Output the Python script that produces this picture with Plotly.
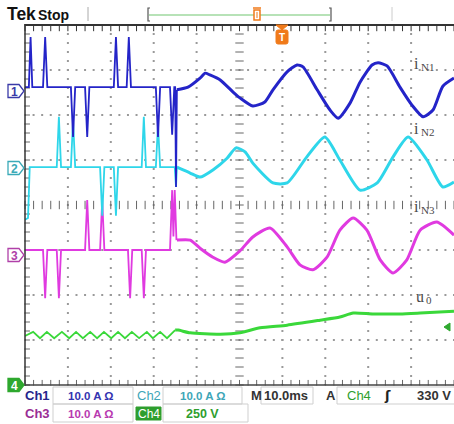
import numpy as np
import plotly.graph_objects as go

W, H = 454, 424

# ---------------- data: time in ms (10 ms/div), value in screen divisions (0..8) -------------
# Ch1 (iN1) switching part
ch1_pulse_t = [0.0, 0.9, 1.3, 1.7, 4.2, 4.7, 5.2, 10.7, 11.2, 11.7, 14.0, 14.5, 15.0,
               20.7, 21.2, 21.7, 23.7, 24.2, 24.7, 30.5, 31.0, 31.5, 33.8, 34.3, 34.8,
               35.0, 35.2, 35.4]
ch1_pulse_v = [6.62, 6.62, 7.73, 6.62, 6.62, 7.73, 6.62, 6.62, 5.51, 6.62, 6.62, 5.51, 6.62,
               6.62, 7.73, 6.62, 6.62, 7.73, 6.62, 6.62, 5.51, 6.62, 6.62, 5.56, 6.62,
               6.62, 4.40, 6.56]
# Ch1 sinusoidal part
ch1_wave_t = [35.4, 38.0, 40.8, 42.0, 43.1, 45.5, 48.5, 50.1, 53.1, 55.9, 57.8,
              61.1, 63.4, 64.8, 68.1, 71.1, 73.0, 75.8, 78.1, 80.9, 82.3, 84.4, 87.4, 90.2,
              92.8, 95.1, 97.4, 100.0]
ch1_wave_v = [6.56, 6.62, 6.82, 6.93, 6.89, 6.78, 6.51, 6.38, 6.20, 6.29, 6.56,
              6.96, 7.11, 7.07, 6.56, 6.11, 5.93, 6.27, 6.73, 7.11, 7.16, 7.09, 6.62, 6.22,
              5.96, 6.11, 6.64, 6.82]

# Ch2 (iN2)
ch2_pulse_t = [0.0, 0.7, 1.1, 7.4, 7.9, 8.4, 10.7, 11.2, 11.7, 17.5, 18.0, 18.5, 20.7, 21.2,
               21.7, 27.2, 27.7, 28.2, 30.5, 31.0, 31.5, 34.9, 35.2, 35.4]
ch2_pulse_v = [3.67, 3.71, 4.84, 4.84, 5.96, 4.84, 4.84, 5.89, 4.84, 4.84, 3.76, 4.84, 4.84,
               3.76, 4.84, 4.84, 5.96, 4.84, 4.84, 5.78, 4.84, 4.84, 4.40, 4.84]
ch2_wave_t = [35.4, 38.5, 40.8, 43.8, 47.1, 49.2, 51.3, 53.1, 57.8, 61.1, 65.7, 69.9, 73.4,
              78.1, 82.1, 85.8, 89.3, 93.7, 97.4, 100.0]
ch2_wave_v = [4.84, 4.71, 4.62, 4.78, 5.04, 5.27, 5.18, 4.93, 4.49, 4.49, 5.07, 5.51, 5.00,
              4.33, 4.49, 5.07, 5.51, 5.00, 4.40, 4.51]

# Ch3 (iN3)
ch3_pulse_t = [0.0, 4.2, 4.7, 5.2, 7.4, 7.9, 8.4, 14.0, 14.5, 15.0, 17.5, 18.0, 18.5, 24.0,
               24.5, 25.0, 27.2, 27.7, 28.2, 33.8, 34.3, 34.6, 34.9, 35.3]
ch3_pulse_v = [3.00, 3.00, 1.93, 3.00, 3.00, 1.93, 3.00, 3.00, 4.11, 3.00, 3.00, 4.11, 3.00,
               3.00, 1.93, 3.00, 3.00, 1.93, 3.00, 3.00, 4.33, 3.30, 4.33, 3.22]
ch3_wave_t = [35.4, 38.5, 40.8, 43.8, 46.6, 50.1, 53.1, 57.1, 61.1, 64.1, 67.1, 70.4, 73.4,
              76.5, 79.7, 82.8, 85.8, 89.0, 92.1, 96.0, 100.0]
ch3_wave_v = [3.22, 3.22, 3.04, 2.84, 2.73, 2.98, 3.29, 3.49, 3.07, 2.67, 2.56, 2.84, 3.44,
              3.71, 3.44, 2.78, 2.49, 2.78, 3.44, 3.62, 3.33]

# Ch4 (u0)
ch4_ripple_t = [0.0, 1.9, 3.5, 5.1, 6.8, 8.6, 10.3, 11.9, 13.5, 15.2, 16.8, 18.4, 20.1, 21.7,
                23.3, 24.9, 26.6, 28.4, 29.8, 31.5, 33.1, 35.0]
ch4_ripple_v = [1.09, 1.18, 1.04, 1.18, 1.04, 1.18, 1.04, 1.18, 1.04, 1.18, 1.04, 1.18, 1.04,
                1.18, 1.04, 1.18, 1.04, 1.18, 1.04, 1.18, 1.04, 1.22]
ch4_wave_t = [35.0, 35.7, 38.5, 45.5, 50.1, 54.8, 61.1, 68.8, 73.4, 76.5, 81.1, 87.4, 92.1, 100.0]
ch4_wave_v = [1.22, 1.22, 1.16, 1.13, 1.16, 1.27, 1.33, 1.44, 1.51, 1.60, 1.58, 1.58, 1.60, 1.64]

trace_labels = [("i", "N1"), ("i", "N2"), ("i", "N3"), ("u", "0")]
readout_row1 = ["Ch1", "10.0 A Ω", "Ch2", "10.0 A Ω", "M", "10.0ms", "A", "Ch4", "ʃ", "330 V"]
readout_row2 = ["Ch3", "10.0 A Ω", "Ch4", "250 V"]

C1, C2, C3, C4 = "#2424c8", "#2ed6ea", "#e03ae0", "#3ad83a"
FONT = "Liberation Sans"

fig = go.Figure()

# ---------------- graticule (main axes, ms / div) ----------------
dx, dy = [], []
for r in [1, 2, 3, 5, 6, 7]:
    for x in np.arange(0, 100.01, 2):
        dx.append(x); dy.append(r)
for c in [10, 20, 30, 40, 60, 70, 80, 90]:
    for y in np.arange(0, 8.001, 0.2):
        dx.append(c); dy.append(y)
fig.add_trace(go.Scatter(x=dx, y=dy, mode="markers", hoverinfo="skip",
                         marker=dict(symbol="square", size=2, color="#9a9a9a", line=dict(width=0))))
tk = np.arange(0, 100.01, 2)
tv = np.arange(0, 8.001, 0.2)
tick_style = dict(color="#666666", width=1)
# center cross ticks
fig.add_trace(go.Scatter(x=tk, y=[4] * len(tk), mode="markers", hoverinfo="skip", cliponaxis=False,
                         marker=dict(symbol="line-ns", size=6, line=tick_style)))
fig.add_trace(go.Scatter(x=[50] * len(tv), y=tv, mode="markers", hoverinfo="skip", cliponaxis=False,
                         marker=dict(symbol="line-ew", size=6, line=tick_style)))
# border ticks
fig.add_trace(go.Scatter(x=[0.5] * len(tv), y=tv, mode="markers", hoverinfo="skip", cliponaxis=False,
                         marker=dict(symbol="line-ew", size=4, line=tick_style)))
fig.add_trace(go.Scatter(x=tk, y=[8 - 0.06] * len(tk), mode="markers", hoverinfo="skip", cliponaxis=False,
                         marker=dict(symbol="line-ns", size=5, line=dict(color="#333333", width=1))))
fig.add_trace(go.Scatter(x=tk, y=[0.05] * len(tk), mode="markers", hoverinfo="skip", cliponaxis=False,
                         marker=dict(symbol="line-ns", size=4, line=tick_style)))

# ---------------- waveforms ----------------
for (pt, pv, wt, wv, col) in [
        (ch4_ripple_t, ch4_ripple_v, ch4_wave_t, ch4_wave_v, C4),
        (ch3_pulse_t, ch3_pulse_v, ch3_wave_t, ch3_wave_v, C3),
        (ch2_pulse_t, ch2_pulse_v, ch2_wave_t, ch2_wave_v, C2),
        (ch1_pulse_t, ch1_pulse_v, ch1_wave_t, ch1_wave_v, C1)]:
    fig.add_trace(go.Scatter(x=pt, y=pv, mode="lines", hoverinfo="skip",
                             line=dict(color=col, width=1.8)))
    fig.add_trace(go.Scatter(x=wt, y=wv, mode="lines", hoverinfo="skip",
                             line=dict(color=col, width=3, shape="spline", smoothing=0.6)))

# ---------------- decorations in pixel coordinates (x2/y2) ----------------
shapes, annos = [], []


def pline(x0, y0, x1, y1, color, width=1):
    shapes.append(dict(type="line", xref="x2", yref="y2", x0=x0, y0=y0, x1=x1, y1=y1,
                       line=dict(color=color, width=width), layer="above"))


def prect(x0, y0, x1, y1, line_color, fill="rgba(0,0,0,0)", width=1):
    shapes.append(dict(type="rect", xref="x2", yref="y2", x0=x0, y0=y0, x1=x1, y1=y1,
                       line=dict(color=line_color, width=width), fillcolor=fill, layer="above"))


def ppath(d, line_color, fill, width=1):
    shapes.append(dict(type="path", xref="x2", yref="y2", path=d,
                       line=dict(color=line_color, width=width), fillcolor=fill, layer="above"))


def ptext(x, y, s, size, color, bold=False, anchor="left", family=FONT):
    annos.append(dict(xref="x2", yref="y2", x=x, y=y, text=("<b>%s</b>" % s) if bold else s,
                      showarrow=False, xanchor=anchor, yanchor="middle", borderpad=0,
                      font=dict(family=family, size=size, color=color)))


# frame
pline(25, 25, 454, 25, "#333333", 2)
pline(25, 24, 25, 386, "#333333", 1.5)
pline(25, 385, 454, 385, "#444444", 1.5)

# top bar
ptext(6, 14, "Tek", 17.5, "#111111", bold=True)
ptext(37, 15, "Stop", 14, "#111111", bold=True)
pline(88, 7, 88, 21, "#aaaaaa", 1)
pline(392, 7, 392, 21, "#cccccc", 1)
pline(149, 15, 330, 15, "#9fd89f", 1.5)
ppath("M 150,8 L 148,8 L 148,21 L 150,21", "#555555", "rgba(0,0,0,0)", 1.2)
ppath("M 329,8 L 331,8 L 331,21 L 329,21", "#555555", "rgba(0,0,0,0)", 1.2)
pline(253, 8, 261, 8, "#f07a1a", 1.5)
prect(254, 10, 260, 20, "#f07a1a", "#ffffff", 1.5)
pline(257, 12, 257, 18, "#f07a1a", 1)
# trigger position marker
ppath("M 276,25 L 288,25 L 282,30 Z", "#f07a1a", "#f07a1a", 1)
ppath("M 278,30 L 286,30 Q 288,30 288,32 L 288,42 Q 288,44 286,44 L 278,44 Q 276,44 276,42 "
      "L 276,32 Q 276,30 278,30 Z", "#f07a1a", "#f07a1a", 1)
ptext(282, 37.5, "T", 10, "#ffffff", bold=True, anchor="center")

# channel ground markers
for num, yc, col, filled in [("1", 91, "#3a3aa8", False), ("2", 168, "#3aaab8", False),
                             ("3", 255, "#b040a8", False), ("4", 385, "#2ea82e", True)]:
    d = "M 8,%g L 19,%g L 24,%g L 19,%g L 8,%g Z" % (yc - 6.5, yc - 6.5, yc, yc + 6.5, yc + 6.5)
    ppath(d, col, col if filled else "#ffffff", 1.3)
    ptext(14, yc + 0.5, num, 12, "#ffffff" if filled else col, bold=True, anchor="center")

# trigger level arrow (right)
ppath("M 444,327 L 450,323 L 450,331 Z", "#2ea82e", "#2ea82e", 1)

# waveform labels (main letter + subscript)
lab_family = "Liberation Serif"
for (main, sub), (lx, ly) in zip(trace_labels, [(413, 63), (413, 128), (413, 206), (415, 296)]):
    ptext(lx, ly, main, 16, "#4a4a4a", family=lab_family)
    ptext(lx + (7 if main == "i" else 9.5), ly + 4, sub, 11, "#4a4a4a", family=lab_family)

# readout boxes
for (x0, y0, x1, y1) in [(53, 387, 133, 404), (163, 387, 242, 404), (261, 387, 313, 404),
                         (337, 387, 455, 404), (53, 404, 133, 422), (163, 404, 248, 422)]:
    prect(x0, y0, x1, y1, "#cfcfcf", width=1)

r1, r2 = 395.5, 413.5
ptext(24, r1, readout_row1[0], 13, "#25258c", bold=True)
ptext(67, r1, readout_row1[1], 11.5, "#3434b0", bold=True)
ptext(136, r1, readout_row1[2], 13, "#3ea6b8")
ptext(179, r1, readout_row1[3], 11.5, "#3ea6b8", bold=True)
ptext(250, r1, readout_row1[4], 13, "#333333", bold=True)
ptext(263, r1, readout_row1[5], 13, "#333333", bold=True)
ptext(325, r1, readout_row1[6], 13, "#333333", bold=True)
ptext(346, r1, readout_row1[7], 13, "#2e9e2e")
ptext(383, r1, readout_row1[8], 13, "#222222", bold=True, family="DejaVu Sans")
ptext(416, r1, readout_row1[9], 13, "#333333", bold=True)

ptext(24, r2, readout_row2[0], 13, "#9a2e94", bold=True)
ptext(67, r2, readout_row2[1], 11.5, "#b83ab0", bold=True)
prect(136, 407, 161, 420, "#2e9e2e", "#2e9e2e", 1)
ptext(148.5, r2, readout_row2[2], 12, "#ffffff", anchor="center")
ptext(185, r2, readout_row2[3], 12.5, "#2e9e2e", bold=True)

fig.update_layout(
    width=W, height=H, margin=dict(l=0, r=0, t=0, b=0, pad=0),
    paper_bgcolor="white", plot_bgcolor="rgba(0,0,0,0)", showlegend=False,
    xaxis=dict(domain=[25 / W, 1], range=[0, 100], visible=False, fixedrange=True),
    yaxis=dict(domain=[39 / H, 399 / H], range=[0, 8], visible=False, fixedrange=True),
    xaxis2=dict(domain=[0, 1], range=[0, W], visible=False, anchor="y2", fixedrange=True),
    yaxis2=dict(domain=[0, 1], range=[H, 0], visible=False, anchor="x2", fixedrange=True),
    shapes=shapes, annotations=annos,
)

fig.write_html("out.html", config={"displayModeBar": False},
               post_script="document.body.style.margin='0';document.body.style.overflow='hidden';")
